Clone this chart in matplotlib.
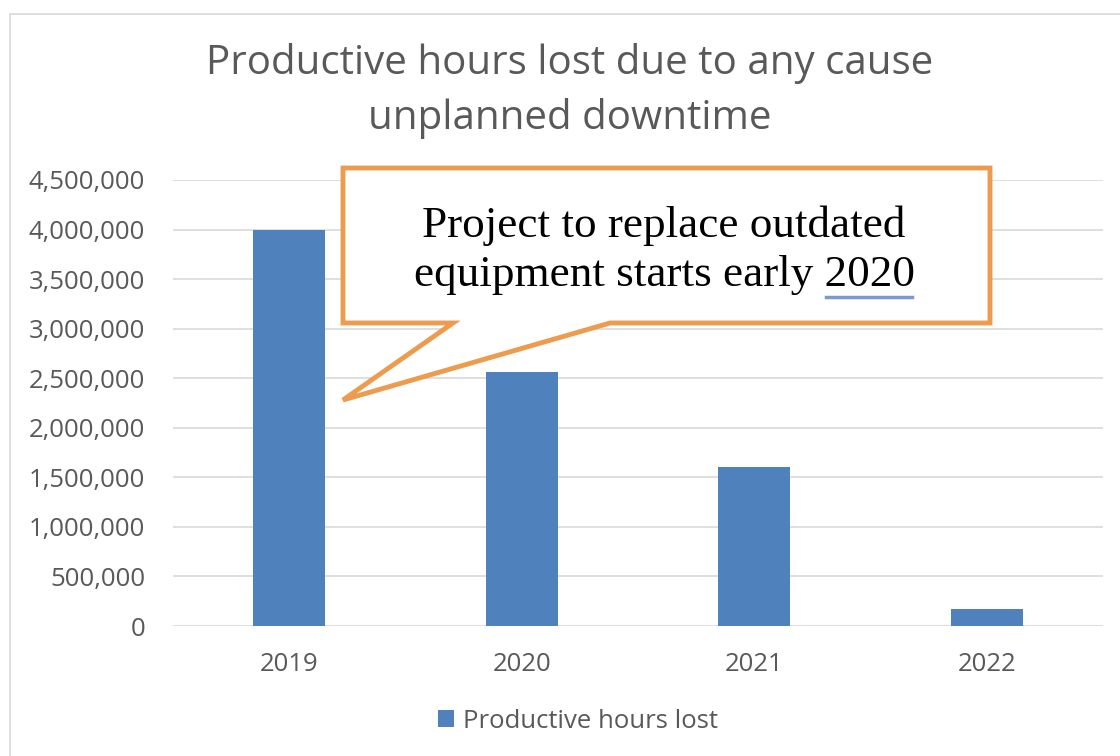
import matplotlib
matplotlib.use("Agg")
import matplotlib.pyplot as plt
from matplotlib.patches import Rectangle, Polygon
from matplotlib.ticker import FuncFormatter

years = ["2019", "2020", "2021", "2022"]
hours_lost = [4000000, 2560000, 1600000, 170000]
series_name = "Productive hours lost"
title = "Productive hours lost due to any cause\nunplanned downtime"
callout = "Project to replace outdated\nequipment starts early 2020"

W, H = 1120, 756
fig = plt.figure(figsize=(W / 100, H / 100), dpi=100)

def fx(px):
    return px / W

def fy(py):
    return 1 - py / H

# chart border
fig.patches.append(Rectangle((fx(10), fy(780)), fx(1130) - fx(10), fy(14) - fy(780),
                             transform=fig.transFigure, fill=False, edgecolor="#D9D9D9", lw=1.2))

ax = fig.add_axes([fx(173), fy(626), fx(1103) - fx(173), fy(180) - fy(626)])
bar_color = "#4F81BD"
x = range(len(years))
ax.bar(x, hours_lost, width=0.31, color=bar_color, zorder=3, label=series_name)
ax.set_xlim(-0.5, len(years) - 0.5)
ax.set_ylim(0, 4500000)
ax.set_yticks(range(0, 4500001, 500000))
ax.yaxis.set_major_formatter(FuncFormatter(lambda v, p: f"{int(v):,}"))
ax.set_xticks(list(x))
ax.set_xticklabels(years)
for s in ax.spines.values():
    s.set_visible(False)
ax.grid(axis="y", color="#D9D9D9", lw=1.2, zorder=0)
ax.tick_params(length=0, labelsize=18.5, labelcolor="#595959")
ax.tick_params(axis="y", pad=20)
ax.tick_params(axis="x", pad=19)
for lab in ax.get_xticklabels() + ax.get_yticklabels():
    lab.set_fontfamily("Open Sans")

fig.text(fx(570), fy(91), title, ha="center", va="center", fontsize=29,
         color="#595959", family="Open Sans", linespacing=1.42)

# callout
orange = "#ED9B4F"
pts = [(343, 168), (990, 168), (990, 323), (610, 323), (343, 400), (453, 323), (343, 323)]
fig.patches.append(Polygon([(fx(a), fy(b)) for a, b in pts], closed=True,
                           transform=fig.transFigure, facecolor="white",
                           edgecolor=orange, lw=3.5, zorder=5, joinstyle="miter"))
fig.text(fx(664), fy(250), callout, ha="center", va="center", fontsize=32.5,
         family="Liberation Serif", color="black", linespacing=1.28, zorder=6)
# spell-check style underline under 2020
fig.lines.append(plt.Line2D([fx(826), fx(912)], [fy(297), fy(297)],
                            transform=fig.transFigure, color="#7C97D8", lw=2.5, zorder=6))

leg = fig.legend(loc="center", bbox_to_anchor=(fx(578), fy(721)), frameon=False,
                 prop={"family": "Open Sans", "size": 18.5}, handlelength=0.6,
                 handleheight=0.6, handletextpad=0.35)
for t in leg.get_texts():
    t.set_color("#595959")

fig.savefig("out.png", dpi=100, facecolor="white")
